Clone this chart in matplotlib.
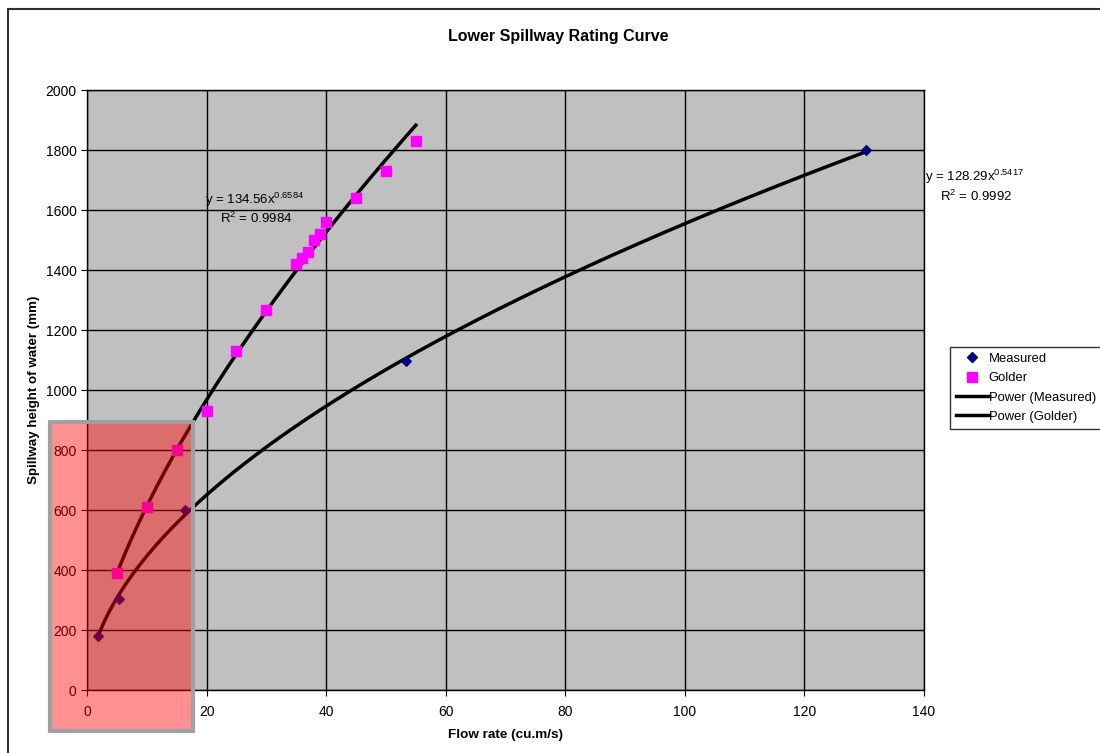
import numpy as np
import matplotlib
matplotlib.use('Agg')
import matplotlib.pyplot as plt
from matplotlib.patches import Rectangle
from matplotlib.lines import Line2D

plt.rcParams['font.family'] = ['Liberation Sans', 'DejaVu Sans']
plt.rcParams['mathtext.fontset'] = 'custom'
plt.rcParams['mathtext.rm'] = 'Liberation Sans'
plt.rcParams['mathtext.it'] = 'Liberation Sans'

# Measured data
measured_flow = [1.84, 5.35, 16.4, 53.35, 130.3]
measured_height = [180, 303, 600, 1097, 1800]

# Golder data
golder_flow = [5, 10, 15, 20, 25, 30, 35, 36, 37, 38, 39, 40, 45, 50, 55]
golder_height = [390, 610, 800, 930, 1130, 1268, 1420, 1440, 1460, 1500, 1520, 1560, 1640, 1730, 1830]

# Power trendline coefficients (from chart labels)
meas_a, meas_b = 128.29, 0.5417
gold_a, gold_b = 134.56, 0.6584

fig = plt.figure(figsize=(11, 7.53), dpi=100)
ax = fig.add_axes([87/1100, 1 - 690/753, (924-87)/1100, 600/753])
ax.set_facecolor('#C0C0C0')

# trendlines
xm = np.linspace(min(measured_flow), max(measured_flow), 200)
ax.plot(xm, meas_a * xm**meas_b, color='black', lw=2.5, zorder=3)
xg = np.linspace(min(golder_flow), max(golder_flow), 200)
ax.plot(xg, gold_a * xg**gold_b, color='black', lw=2.5, zorder=3)

# points
ax.scatter(measured_flow, measured_height, marker='D', s=24, color='#000080', zorder=4)
ax.scatter(golder_flow, golder_height, marker='s', s=52, color='#FF00FF', zorder=4)

ax.set_xlim(0, 140)
ax.set_ylim(0, 2000)
ax.set_xticks(range(0, 141, 20))
ax.set_yticks(range(0, 2001, 200))
ax.grid(True, color='black', lw=1)
ax.set_axisbelow(True)
ax.tick_params(direction='out', length=4, labelsize=10, colors='black')
ax.tick_params(axis='x', pad=7)
for s in ax.spines.values():
    s.set_color('black')
    s.set_linewidth(1)

ax.set_xlabel('Flow rate (cu.m/s)', fontsize=9.7, fontweight='bold', labelpad=7)
ax.set_ylabel('Spillway height of water (mm)', fontsize=9.6, fontweight='bold', labelpad=4)

# equations
fig.text(205/1100, 1 - 200/753, r'y = 134.56x$^{0.6584}$', fontsize=9.5, va='center', ha='left')
fig.text(220/1100, 1 - 218/753, r'R$^{2}$ = 0.9984', fontsize=9.5, va='center', ha='left')
fig.text(925/1100, 1 - 177/753, r'y = 128.29x$^{0.5417}$', fontsize=9.5, va='center', ha='left')
fig.text(940/1100, 1 - 196/753, r'R$^{2}$ = 0.9992', fontsize=9.5, va='center', ha='left')

fig.text(558/1100, 1 - 37/753, 'Lower Spillway Rating Curve', fontsize=11.5,
         fontweight='bold', ha='center', va='center')

# outer chart frame
fig.add_artist(Rectangle((8/1100, -0.05), 1.2, 1 - 9/753 + 0.05, transform=fig.transFigure,
                         fill=False, edgecolor='#303030', lw=1.5))

# legend
handles = [
    Line2D([], [], marker='D', color='#000080', ls='none', markersize=5),
    Line2D([], [], marker='s', color='#FF00FF', ls='none', markersize=7.5),
    Line2D([], [], color='black', lw=2.5),
    Line2D([], [], color='black', lw=2.5),
]
labels = ['Measured', 'Golder', 'Power (Measured)', 'Power (Golder)']
leg = fig.legend(handles, labels, loc='upper left', bbox_to_anchor=(950/1100, 1 - 347/753),
                 fontsize=9.4, frameon=True, fancybox=False, handlelength=2.5,
                 handletextpad=0.0, borderpad=0.45, labelspacing=0.55, borderaxespad=0)
leg.get_frame().set_edgecolor('black')
leg.get_frame().set_linewidth(1)

# highlight box over the lower-left corner
fig.add_artist(Rectangle((50/1100, 1 - 731/753), 143/1100, 309/753, transform=fig.transFigure,
                         facecolor=(1, 0, 0, 0.43), edgecolor='#A0A0A0', lw=3, zorder=5))

fig.savefig('out.png', dpi=100)
